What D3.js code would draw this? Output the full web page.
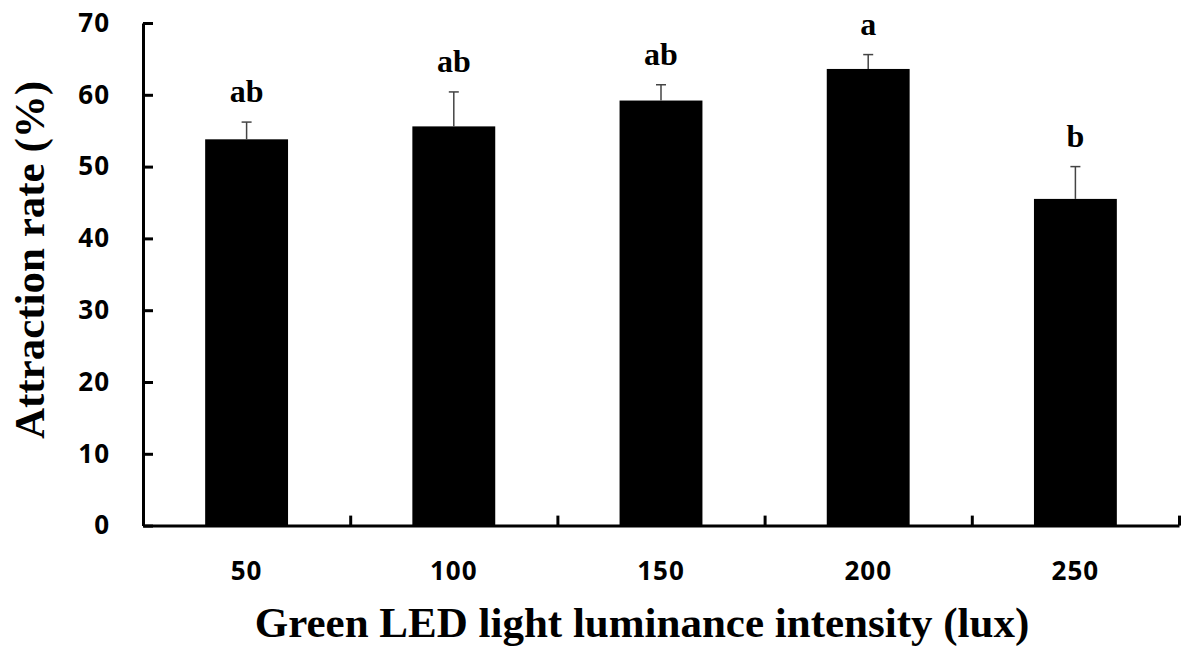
<!DOCTYPE html>
<html>
<head>
<meta charset="utf-8">
<script src="https://cdn.jsdelivr.net/npm/d3@7"></script>
<style>
  body { margin: 0; background: #fff; }
  svg { display: block; }
</style>
</head>
<body>
<div id="chart"></div>
<script>
// data
var categories = ["50", "100", "150", "200", "250"];
var means = [53.8, 55.6, 59.2, 63.6, 45.5];
var errors = [2.4, 4.8, 2.2, 2.0, 4.5];
var letters = ["ab", "ab", "ab", "a", "b"];
var yTicks = [0, 10, 20, 30, 40, 50, 60, 70];

var W = 1184, H = 652;
var plotLeft = 143, plotRight = 1179, plotTop = 23, plotBottom = 525.6;

var svg = d3.select("#chart").append("svg")
    .attr("width", W)
    .attr("height", H);

var x = d3.scaleBand()
    .domain(categories)
    .range([plotLeft, plotRight])
    .paddingInner(0.6)
    .paddingOuter(0.3);

// boundaries between categories, for the tick marks
var xEdge = d3.scaleLinear()
    .domain([0, categories.length])
    .range([plotLeft, plotRight]);

var y = d3.scaleLinear()
    .domain([0, 70])
    .range([plotBottom, plotTop]);

//bars
svg.selectAll(".bar")
  .data(means)
  .enter()
  .append("rect")
  .attr("class", "bar")
  .attr("x", function(d, i){ return x(categories[i]); })
  .attr("y", function(d){ return y(d); })
  .attr("width", x.bandwidth())
  .attr("height", function(d){ return y(0) - y(d); })
  .style("fill", "#000");

//error bars (upper only)
var err = svg.selectAll(".err")
  .data(means)
  .enter()
  .append("g")
  .attr("class", "err")
  .style("stroke", "#444")
  .style("stroke-width", "1.5px");

err.append("line")
  .attr("x1", function(d, i){ return x(categories[i]) + x.bandwidth()/2; })
  .attr("x2", function(d, i){ return x(categories[i]) + x.bandwidth()/2; })
  .attr("y1", function(d){ return y(d); })
  .attr("y2", function(d, i){ return y(d + errors[i]); });

err.append("line")
  .attr("x1", function(d, i){ return x(categories[i]) + x.bandwidth()/2 - 5; })
  .attr("x2", function(d, i){ return x(categories[i]) + x.bandwidth()/2 + 5; })
  .attr("y1", function(d, i){ return y(d + errors[i]); })
  .attr("y2", function(d, i){ return y(d + errors[i]); });

//significance letters
svg.selectAll(".letter")
  .data(letters)
  .enter()
  .append("text")
  .attr("class", "letter")
  .attr("x", function(d, i){ return x(categories[i]) + x.bandwidth()/2; })
  .attr("y", function(d, i){ return y(means[i] + errors[i]) - 20; })
  .attr("text-anchor", "middle")
  .style("font-family", "'Liberation Serif', 'Times New Roman', serif")
  .style("font-weight", "bold")
  .style("font-size", "32px")
  .text(function(d){ return d; });

//y axis
var yAxis = svg.append("g")
  .attr("transform", "translate(" + plotLeft + ",0)")
  .call(d3.axisLeft(y).tickValues(yTicks).tickSizeInner(-10).tickSizeOuter(0).tickPadding(33));

yAxis.select(".domain").style("stroke", "#000").style("stroke-width", "3px");
yAxis.selectAll(".tick line").style("stroke", "#000").style("stroke-width", "3px");
yAxis.selectAll(".tick text")
  .style("font-family", "'Open Sans', 'Noto Sans', sans-serif")
  .style("font-weight", "bold")
  .style("font-size", "26px")
  .style("letter-spacing", "1px")
  .style("fill", "#000");

//x axis: boundary ticks
var xTickAxis = svg.append("g")
  .attr("transform", "translate(0," + plotBottom + ")")
  .call(d3.axisBottom(xEdge).ticks(categories.length).tickSizeInner(-10).tickSizeOuter(0).tickFormat(""));

xTickAxis.select(".domain").style("stroke", "#000").style("stroke-width", "3px");
xTickAxis.selectAll(".tick line").style("stroke", "#000").style("stroke-width", "3px");

//x axis: category labels
var xAxis = svg.append("g")
  .attr("transform", "translate(0," + plotBottom + ")")
  .call(d3.axisBottom(x).tickSize(0).tickPadding(36));

xAxis.select(".domain").remove();
xAxis.selectAll(".tick text")
  .style("font-family", "'Open Sans', 'Noto Sans', sans-serif")
  .style("font-weight", "bold")
  .style("font-size", "26px")
  .style("letter-spacing", "1px")
  .style("fill", "#000");

//axis titles
svg.append("text")
  .attr("x", 642)
  .attr("y", 637)
  .attr("text-anchor", "middle")
  .style("font-family", "'Liberation Serif', 'Times New Roman', serif")
  .style("font-weight", "bold")
  .style("font-size", "43px")
  .text("Green LED light luminance intensity (lux)");

svg.append("text")
  .attr("transform", "translate(44,260) rotate(-90)")
  .attr("text-anchor", "middle")
  .style("font-family", "'Liberation Serif', 'Times New Roman', serif")
  .style("font-weight", "bold")
  .style("font-size", "43px")
  .text("Attraction rate (%)");
</script>
</body>
</html>
